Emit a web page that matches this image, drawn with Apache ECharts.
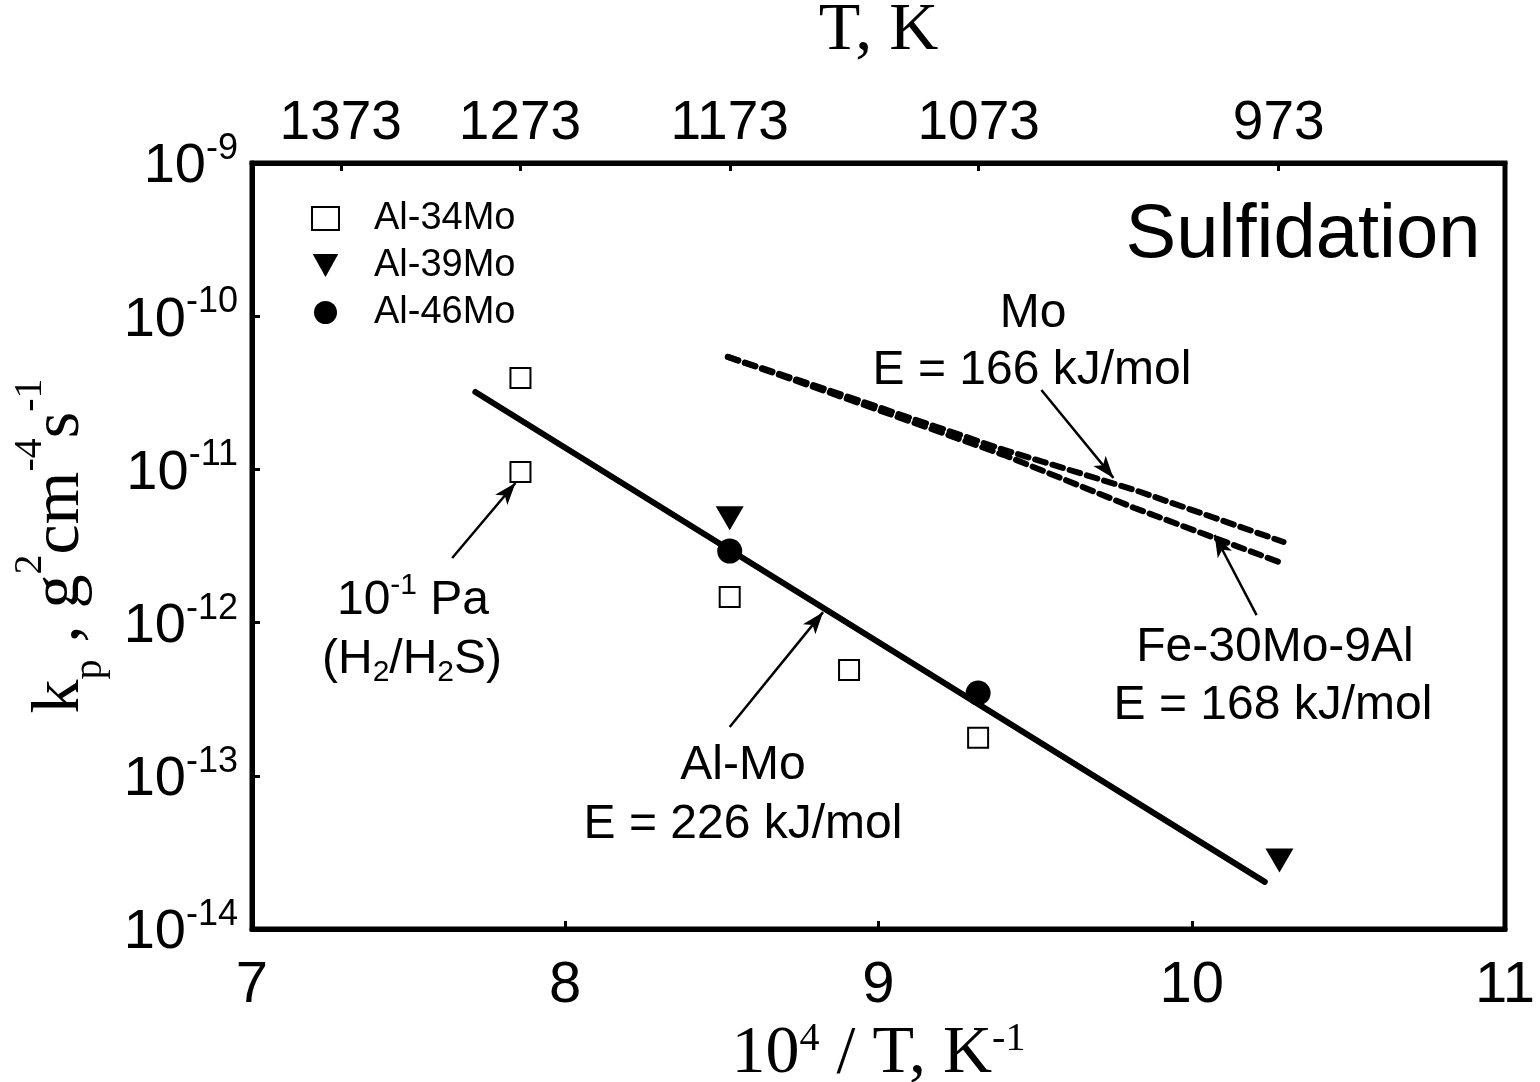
<!DOCTYPE html>
<html>
<head>
<meta charset="utf-8">
<script src="https://cdn.jsdelivr.net/npm/echarts@6/dist/echarts.min.js"></script>
<style>
html,body{margin:0;padding:0;background:#fff;}
#main{width:1540px;height:1082px;}
</style>
</head>
<body>
<div id="main"></div>
<script>
/* 数据 */
var al34X = [7.857, 7.857, 8.525, 8.906, 9.318];
var al34Y = [3.95e-11, 9.6e-12, 1.47e-12, 4.9e-13, 1.77e-13];
var al39X = [8.525, 10.28];
var al39Y = [4.8e-12, 2.8e-14];
var al46X = [8.525, 9.318];
var al46Y = [2.93e-12, 3.47e-13];

/* 拟合线 */
var alMoX = [7.713, 10.233];
var alMoY = [3.2e-11, 2.03e-14];
var moX = [8.519, 8.839, 9.401, 9.817, 10.293];
var moY = [5.42e-11, 3.30e-11, 1.34e-11, 7.35e-12, 3.36e-12];
var feX = [8.519, 8.839, 9.401, 9.817, 10.287];
var feY = [5.42e-11, 3.2e-11, 1.24e-11, 5.6e-12, 2.45e-12];

/* 上轴温度 */
var topT = [1373, 1273, 1173, 1073, 973];

/* 箭头 [起点x, 起点y, 终点x, 终点y] */
var arrows = [
  [7.639, 2.64e-12, 7.841, 8.15e-12],
  [8.525, 2.08e-13, 8.823, 1.17e-12],
  [9.52, 3.3e-11, 9.75, 8.8e-12],
  [10.207, 1.12e-12, 10.073, 3.73e-12]
];

function pairs(xs, ys){
  var out = [];
  for (var i = 0; i < xs.length; i++) out.push([xs[i], ys[i]]);
  return out;
}

var topVals = topT.map(function(t){ return 1e4 / t; });
var arrowData = arrows.map(function(a){
  return [{coord:[a[0], a[1]]}, {coord:[a[2], a[3]]}];
});

var sans = 'Arial, "Liberation Sans", sans-serif';
var serif = '"Times New Roman", "Liberation Serif", serif';
var ann = '48px ' + sans;

var myChart = echarts.init(document.getElementById('main'));

var option = {
  backgroundColor: '#fff',
  animation: false,
  grid: {
    left: 252, right: 35, top: 163, bottom: 153,
    containLabel: false, outerBoundsMode: 'none',
    show: true, borderColor: '#000', borderWidth: 5
  },
  legend: {
    data: [
      {name: 'Al-34Mo'},
      {name: 'Al-39Mo', icon: 'path://M0,0 L20,0 L10,18 Z'},
      {name: 'Al-46Mo'}
    ],
    orient: 'vertical',
    left: 306, top: 193,
    itemWidth: 27, itemHeight: 23, itemGap: 6,
    textStyle: {fontFamily: sans, fontSize: 38, color: '#000', padding: [0, 0, 0, 30], lineHeight: 41}
  },
  xAxis: [{
    type: 'value', min: 7, max: 11, interval: 1,
    position: 'bottom',
    axisLine: {lineStyle: {color: '#000', width: 5}},
    axisTick: {inside: true, length: 8, lineStyle: {color: '#000', width: 3}},
    axisLabel: {fontFamily: sans, fontSize: 58, color: '#000', margin: 28},
    splitLine: {show: false},
    name: '{t|10}{sup|4}{t| / T, K}{sup|-1}',
    nameLocation: 'middle', nameGap: 86,
    nameTextStyle: {
      fontFamily: serif, color: '#000',
      rich: {
        t: {fontFamily: serif, fontSize: 68, color: '#000', verticalAlign: 'bottom', lineHeight: 68},
        sup: {fontFamily: serif, fontSize: 40, color: '#000', verticalAlign: 'top', lineHeight: 40}
      }
    }
  }, {
    type: 'value', min: 7, max: 11,
    position: 'top',
    axisLine: {lineStyle: {color: '#000', width: 5}},
    axisTick: {inside: true, length: 8, customValues: topVals, lineStyle: {color: '#000', width: 3}},
    axisLabel: {
      fontFamily: sans, fontSize: 55, color: '#000', margin: 12,
      customValues: topVals,
      formatter: function(v){ return Math.round(1e4 / v); }
    },
    splitLine: {show: false},
    name: 'T, K',
    nameLocation: 'middle', nameGap: 98,
    nameTextStyle: {fontFamily: serif, fontSize: 68, color: '#000'}
  }],
  yAxis: {
    type: 'log', logBase: 10, min: 1e-14, max: 1e-9,
    axisLine: {show: true, lineStyle: {color: '#000', width: 5}},
    axisTick: {inside: true, length: 8, lineStyle: {color: '#000', width: 3}},
    minorTick: {show: false},
    splitLine: {show: false},
    axisLabel: {
      margin: 14,
      formatter: function(v){
        var e = Math.round(Math.log(v) / Math.LN10);
        return '{b|10}{s|' + e + '}';
      },
      rich: {
        b: {fontFamily: sans, fontSize: 56, color: '#000', verticalAlign: 'bottom', lineHeight: 64},
        s: {fontFamily: sans, fontSize: 36, color: '#000', verticalAlign: 'top', lineHeight: 36}
      }
    },
    name: '{t|k}{sub|p}{t| , g}{sup|2}{t|cm}{sup|-4}{t|s}{sup|-1}',
    nameLocation: 'middle', nameGap: 142, nameRotate: 90,
    nameTextStyle: {
      rich: {
        t: {fontFamily: serif, fontSize: 68, color: '#000', verticalAlign: 'middle', lineHeight: 100},
        sup: {fontFamily: serif, fontSize: 40, color: '#000', verticalAlign: 'top', lineHeight: 40},
        sub: {fontFamily: serif, fontSize: 40, color: '#000', verticalAlign: 'bottom', lineHeight: 40}
      }
    }
  },
  series: [{
    name: 'Al-Mo', type: 'line', symbol: 'none',
    data: pairs(alMoX, alMoY),
    lineStyle: {color: '#000', width: 6, cap: 'round'},
    markLine: {
      silent: true, animation: false,
      symbol: ['none', 'arrow'], symbolSize: [12, 22],
      lineStyle: {color: '#000', width: 2.5, type: 'solid'},
      label: {show: false},
      data: arrowData
    },
    z: 3
  }, {
    name: 'Mo', type: 'line', symbol: 'none',
    data: pairs(moX, moY),
    lineStyle: {color: '#000', width: 6, type: [11, 7], cap: 'round'}
  }, {
    name: 'Fe-30Mo-9Al', type: 'line', symbol: 'none',
    data: pairs(feX, feY),
    lineStyle: {color: '#000', width: 6, type: [11, 7], cap: 'round'}
  }, {
    name: 'Al-34Mo', type: 'scatter', symbol: 'rect', symbolSize: 20,
    itemStyle: {color: '#fff', borderColor: '#000', borderWidth: 2, opacity: 1},
    data: pairs(al34X, al34Y), z: 5
  }, {
    name: 'Al-39Mo', type: 'scatter', symbol: 'triangle', symbolRotate: 180, symbolSize: [28, 24],
    itemStyle: {color: '#000', opacity: 1},
    data: pairs(al39X, al39Y), z: 5
  }, {
    name: 'Al-46Mo', type: 'scatter', symbol: 'circle', symbolSize: 25,
    itemStyle: {color: '#000', opacity: 1},
    data: pairs(al46X, al46Y), z: 5
  }],
  graphic: [{
    type: 'text', x: 1303, y: 236,
    style: {text: 'Sulfidation', font: '76px ' + sans, fill: '#000', align: 'center', verticalAlign: 'middle'}
  }, {
    type: 'text', x: 1033, y: 314,
    style: {text: 'Mo', font: ann, fill: '#000', align: 'center', verticalAlign: 'middle'}
  }, {
    type: 'text', x: 1032, y: 371,
    style: {text: 'E = 166 kJ/mol', font: ann, fill: '#000', align: 'center', verticalAlign: 'middle'}
  }, {
    type: 'text', x: 1275, y: 648,
    style: {text: 'Fe-30Mo-9Al', font: ann, fill: '#000', align: 'center', verticalAlign: 'middle'}
  }, {
    type: 'text', x: 1273, y: 706,
    style: {text: 'E = 168 kJ/mol', font: ann, fill: '#000', align: 'center', verticalAlign: 'middle'}
  }, {
    type: 'text', x: 743, y: 766,
    style: {text: 'Al-Mo', font: ann, fill: '#000', align: 'center', verticalAlign: 'middle'}
  }, {
    type: 'text', x: 743, y: 825,
    style: {text: 'E = 226 kJ/mol', font: ann, fill: '#000', align: 'center', verticalAlign: 'middle'}
  }, {
    type: 'text', x: 413, y: 598,
    style: {
      text: '{n|10}{s|-1}{n| Pa}', align: 'center', verticalAlign: 'middle',
      rich: {
        n: {fontFamily: sans, fontSize: 48, fill: '#000', verticalAlign: 'bottom', lineHeight: 54},
        s: {fontFamily: sans, fontSize: 30, fill: '#000', verticalAlign: 'top', lineHeight: 30}
      }
    }
  }, {
    type: 'text', x: 412, y: 662,
    style: {
      text: '{n|(H}{d|2}{n|/H}{d|2}{n|S)}', align: 'center', verticalAlign: 'middle',
      rich: {
        n: {fontFamily: sans, fontSize: 48, fill: '#000', verticalAlign: 'top', lineHeight: 52},
        d: {fontFamily: sans, fontSize: 30, fill: '#000', verticalAlign: 'bottom', lineHeight: 30, padding: [20, 0, 0, 0]}
      }
    }
  }]
};

myChart.setOption(option);
</script>
</body>
</html>
